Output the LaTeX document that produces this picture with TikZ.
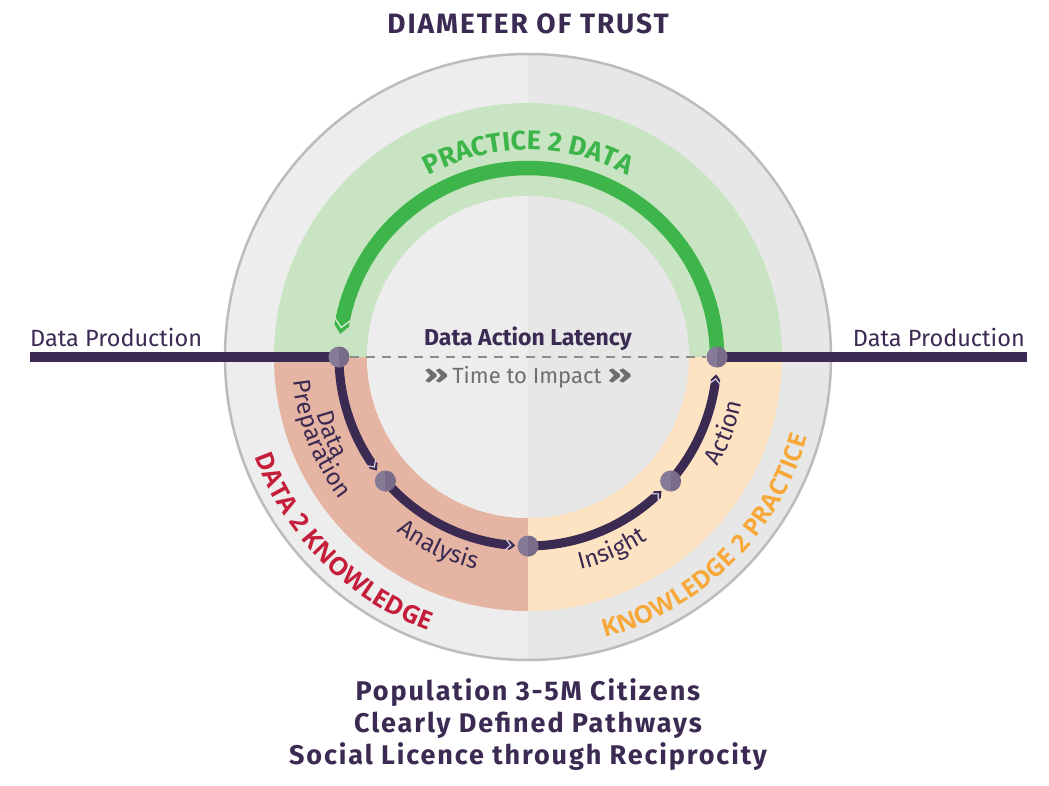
\documentclass[tikz,border=0pt]{standalone}
\usepackage{fontspec}
\usepackage{graphicx}
\setmainfont{Fira Sans}
\newfontfamily\trackedfont[LetterSpace=7]{Fira Sans}
\newfontfamily\osans{Open Sans}
\usetikzlibrary{decorations.text}
\definecolor{dpurple}{RGB}{59,42,82}
\definecolor{pgreen}{RGB}{61,181,74}
\definecolor{bandG}{RGB}{200,228,194}
\definecolor{bandS}{RGB}{230,180,163}
\definecolor{bandP}{RGB}{253,227,193}
\definecolor{ctext}{RGB}{196,30,58}
\definecolor{otext}{RGB}{247,168,56}
\definecolor{bgL}{RGB}{237,237,237}
\definecolor{bgR}{RGB}{231,231,231}
\definecolor{rimc}{RGB}{188,188,188}
\definecolor{nodeL}{RGB}{134,123,150}
\definecolor{nodeR}{RGB}{120,108,136}
\definecolor{tgray}{RGB}{110,110,110}
\definecolor{dgray}{RGB}{140,140,140}
\definecolor{gtipline}{RGB}{215,238,210}
\definecolor{dtipline}{RGB}{212,206,222}
\newcommand\fsz[1]{\fontsize{#1}{#1}\selectfont}
\newcommand\chevs{\scalebox{1.8}[1.2]{\bfseries »}}
\tikzset{
  greentip/.pic={
    \fill[pgreen] (-0.05,0.5) -- (0.55,0) -- (-0.05,-0.5) -- cycle;
    \draw[gtipline, line width=1.3pt] (-0.45,0.52) -- (0.1,0) -- (-0.45,-0.52);
  },
  darktip/.pic={
    \fill[dpurple] (-0.05,0.55) -- (0.6,0) -- (-0.05,-0.55) -- cycle;
    \draw[dtipline, line width=1.2pt] (-0.45,0.56) -- (0.1,0) -- (-0.45,-0.56);
  }
}
\begin{document}
\begin{tikzpicture}[x=1pt,y=1pt,
  nodedot/.style={circle, inner sep=0pt, minimum size=21pt, fill=nodeL,
    path picture={\fill[nodeR] (path picture bounding box.south) rectangle (path picture bounding box.north east);}},
  darkarc/.style={draw=dpurple, line width=9pt},
  greenarc/.style={draw=pgreen, line width=14.5pt},
  hline/.style={draw=dpurple, line width=10pt},
  dashline/.style={draw=dgray, line width=2.5pt, dash pattern=on 9pt off 7pt},
  lbl/.style={text=dpurple},
]
\useasboundingbox (-528,-428) rectangle (521,357);
% background disk
\fill[bgL] (90:303) arc[start angle=90, end angle=270, radius=303] -- cycle;
\fill[bgR] (-90:303) arc[start angle=-90, end angle=90, radius=303] -- cycle;
\draw[rimc, line width=2.5pt] (0,0) circle[radius=303];
% bands
\fill[bandG] (0:254) arc[start angle=0, end angle=180, radius=254] -- (180:161) arc[start angle=180, end angle=0, radius=161] -- cycle;
\fill[bandS] (180:254) arc[start angle=180, end angle=270, radius=254] -- (270:161) arc[start angle=270, end angle=180, radius=161] -- cycle;
\fill[bandP] (270:254) arc[start angle=270, end angle=360, radius=254] -- (0:161) arc[start angle=360, end angle=270, radius=161] -- cycle;
% inner disk
\fill[bgL] (90:161) arc[start angle=90, end angle=270, radius=161] -- cycle;
\fill[bgR] (-90:161) arc[start angle=-90, end angle=90, radius=161] -- cycle;

% node positions
\coordinate (p1) at (180:189);
\coordinate (p2) at (221:189);
\coordinate (p3) at (270:189);
\coordinate (p4) at (319:189);
\coordinate (p5) at (0:189);
\coordinate (lp) at (-498,0);
\coordinate (rp) at (499,0);

% dashed latency line
\draw[dashline] ([xshift=11pt]p1) -- ([xshift=-11pt]p5);
% horizontal production lines
\draw[hline] (lp) -- (p1);
\draw[hline] (p5) -- (rp);

% green arc
\draw[greenarc] (p5) arc[start angle=0, end angle=170.6, radius=189];
\pic[scale=14.5, rotate=260.6] at (170.6:189) {greentip};

% dark arcs
\draw[darkarc] (p1) arc[start angle=180, end angle=215.3, radius=189];
\pic[scale=9, rotate=305.3] at (215.3:189) {darktip};
\draw[darkarc] (p2) arc[start angle=221, end angle=264.5, radius=189];
\pic[scale=9, rotate=354.5] at (264.5:189) {darktip};
\draw[darkarc] (p3) arc[start angle=270, end angle=313.3, radius=189];
\pic[scale=9, rotate=403.3] at (313.3:189) {darktip};
\draw[darkarc] (p4) arc[start angle=319, end angle=353.1, radius=189];
\pic[scale=9, rotate=443.1] at (353.1:189) {darktip};

% nodes
\node[nodedot] (n1) at (p1) {};
\node[nodedot] (n2) at (p2) {};
\node[nodedot] (n3) at (p3) {};
\node[nodedot] (n4) at (p4) {};
\node[nodedot] (n5) at (p5) {};

% curved band labels
\path[decorate, decoration={text along path, text align=center,
  text={|\fsz{27}\bfseries\color{pgreen}|PRACTICE 2 DATA}}]
  (150:207) arc[start angle=150, end angle=30, radius=207];
\path[decorate, decoration={text along path, text align=center,
  text={|\fsz{25}\osans\bfseries\color{ctext}|DATA 2 KNOWLEDGE}}]
  (180:291) arc[start angle=180, end angle=270, radius=291];
\path[decorate, decoration={text along path, text align=center,
  text={|\fsz{24.5}\osans\bfseries\color{otext}|KNOWLEDGE 2 PRACTICE}}]
  (264.7:291) arc[start angle=264.7, end angle=364.7, radius=291];

% step labels
\path[decorate, decoration={text along path, text align=center,
  text={|\fsz{24}\color{dpurple}|Data}}]
  (181.5:219) arc[start angle=181.5, end angle=221.5, radius=219];
\path[decorate, decoration={text along path, text align=center,
  text={|\fsz{24}\color{dpurple}|Preparation}}]
  (171.5:236) arc[start angle=171.5, end angle=231.5, radius=236];
\path[decorate, decoration={text along path, text align=center,
  text={|\fsz{24}\color{dpurple}|Analysis}}]
  (224.6:219) arc[start angle=224.6, end angle=264.6, radius=219];
\path[decorate, decoration={text along path, text align=center,
  text={|\fsz{24}\color{dpurple}|Insight}}]
  (273.5:219) arc[start angle=273.5, end angle=313.5, radius=219];
\path[decorate, decoration={text along path, text align=center,
  text={|\fsz{24}\color{dpurple}|Action}}]
  (319:219) arc[start angle=319, end angle=359, radius=219];

% straight texts
\node[lbl, anchor=base, font=\fsz{28}\trackedfont\bfseries] (title) at (0,323.5) {DIAMETER OF TRUST};
\node[lbl, anchor=base west, font=\fsz{23.5}, inner sep=0pt] (dpl) at (-498,11) {Data Production};
\node[lbl, anchor=base east, font=\fsz{23.5}, inner sep=0pt] (dpr) at (497,11) {Data Production};
\node[lbl, anchor=base, font=\fsz{23}\bfseries] (dal) at (0,12) {Data Action Latency};
\node[anchor=base, font=\fsz{22}, text=tgray] (tti) at (0,-26) {\chevs\,Time to Impact\ \chevs};
\node[lbl, anchor=base, font=\fsz{27}\trackedfont\bfseries] (b1) at (0,-343) {Population 3-5M Citizens};
\node[lbl, anchor=base, font=\fsz{27}\trackedfont\bfseries] (b2) at (0,-375) {Clearly Defined Pathways};
\node[lbl, anchor=base, font=\fsz{27}\trackedfont\bfseries] (b3) at (0,-407) {Social Licence through Reciprocity};
\end{tikzpicture}
\end{document}
